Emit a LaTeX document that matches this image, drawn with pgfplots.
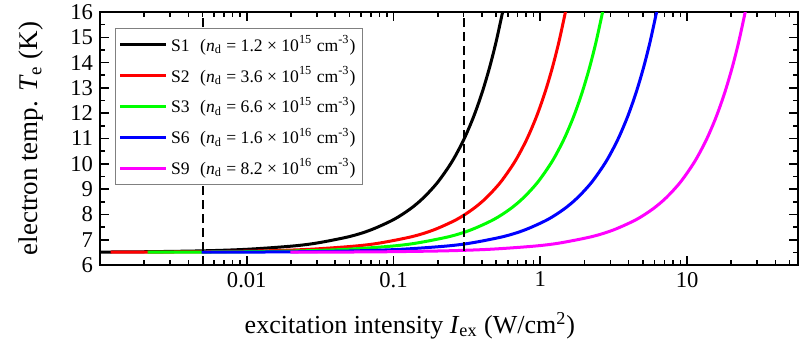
\documentclass[border=0pt]{standalone}
\usepackage{fontspec}
\setmainfont{Liberation Serif}
\usepackage{pgfplots}
\pgfplotsset{compat=1.18}
\definecolor{cgreen}{RGB}{0,255,0}
\definecolor{cblue}{RGB}{0,0,255}
\definecolor{cred}{RGB}{255,0,0}
\definecolor{cmag}{RGB}{255,0,255}
\begin{document}
\begin{tikzpicture}
\begin{axis}[
  name=main,
  xmode=log,
  scale only axis,
  width=349pt, height=126.5pt,
  xmin=0.001, xmax=57,
  ymin=6, ymax=16,
  xtick={0.01,0.1,1,10},
  xticklabels={0.01,0.1,1,10},
  minor xtick={0.002,0.003,0.004,0.005,0.006,0.007,0.008,0.009,
               0.02,0.03,0.04,0.05,0.06,0.07,0.08,0.09,
               0.2,0.3,0.4,0.5,0.6,0.7,0.8,0.9,
               2,3,4,5,6,7,8,9,20,30,40,50},
  ytick={6,7,8,9,10,11,12,13,14,15,16},
  minor y tick num=1,
  tick align=inside,
  major tick length=4.5pt,
  minor tick length=2.5pt,
  every tick/.style={black, line width=0.8pt},
  axis line style={line width=1pt},
  /pgf/number format/assume math mode=true,
  tick label style={font=\fontsize{11.3}{13}\selectfont},
  xlabel={excitation intensity \textit{I}\textsubscript{ex} (W/cm\textsuperscript{2})},
  ylabel={electron temp. \textit{T}\textsubscript{e} (K)},
  x label style={at={(axis description cs:0.444,-0.269)}, anchor=base, font=\fontsize{13}{15}\selectfont},
  y label style={at={(axis description cs:-0.09,0.5)}, anchor=base, font=\fontsize{13.5}{16}\selectfont},
  legend cell align=left,
  legend style={at={(0.0215,0.937)}, anchor=north west, draw=gray, line width=0.5pt,
    font=\fontsize{8.8}{10.5}\selectfont, inner sep=1.5pt, row sep=2pt},
  legend image code/.code={\draw[#1] (0cm,0cm) -- (0.8cm,0cm);},
  every axis plot/.append style={smooth, tension=0.5},
]
\addplot[black, line width=1.5pt] coordinates {
(0.00044,6.505) (0.001,6.512) (0.002,6.524) (0.005,6.560) (0.01,6.621) (0.02,6.744) (0.03,6.868) (0.05,7.123) (0.07,7.386) (0.1,7.793) (0.13,8.217) (0.16,8.658) (0.2,9.272) (0.25,10.081) (0.3,10.937) (0.35,11.839) (0.4,12.788) (0.45,13.783) (0.5,14.825) (0.56,16.136)};
\addlegendentry{S1\hspace{0.6em}(\textit{n}\textsubscript{d} = 1.2 × 10\textsuperscript{15} cm\textsuperscript{-3})}
\addplot[cred, line width=1.5pt] coordinates {
(0.00118,6.505) (0.00268,6.512) (0.00536,6.524) (0.0134,6.560) (0.0268,6.621) (0.0536,6.744) (0.0804,6.868) (0.134,7.123) (0.1876,7.386) (0.268,7.793) (0.3484,8.217) (0.4288,8.658) (0.536,9.272) (0.67,10.081) (0.804,10.937) (0.938,11.839) (1.072,12.788) (1.206,13.783) (1.34,14.825) (1.5008,16.136)};
\addlegendentry{S2\hspace{0.6em}(\textit{n}\textsubscript{d} = 3.6 × 10\textsuperscript{15} cm\textsuperscript{-3})}
\addplot[cgreen, line width=1.5pt] coordinates {
(0.00211,6.505) (0.0048,6.512) (0.0096,6.524) (0.024,6.560) (0.048,6.621) (0.096,6.744) (0.144,6.868) (0.24,7.123) (0.336,7.386) (0.48,7.793) (0.624,8.217) (0.768,8.658) (0.96,9.272) (1.2,10.081) (1.44,10.937) (1.68,11.839) (1.92,12.788) (2.16,13.783) (2.4,14.825) (2.688,16.136)};
\addlegendentry{S3\hspace{0.6em}(\textit{n}\textsubscript{d} = 6.6 × 10\textsuperscript{15} cm\textsuperscript{-3})}
\addplot[cblue, line width=1.5pt] coordinates {
(0.00493,6.505) (0.0112,6.512) (0.0224,6.524) (0.056,6.560) (0.112,6.621) (0.224,6.744) (0.336,6.868) (0.56,7.123) (0.784,7.386) (1.12,7.793) (1.456,8.217) (1.792,8.658) (2.24,9.272) (2.8,10.081) (3.36,10.937) (3.92,11.839) (4.48,12.788) (5.04,13.783) (5.6,14.825) (6.272,16.136)};
\addlegendentry{S6\hspace{0.6em}(\textit{n}\textsubscript{d} = 1.6 × 10\textsuperscript{16} cm\textsuperscript{-3})}
\addplot[cmag, line width=1.5pt] coordinates {
(0.0198,6.505) (0.045,6.512) (0.09,6.524) (0.225,6.560) (0.45,6.621) (0.9,6.744) (1.35,6.868) (2.25,7.123) (3.15,7.386) (4.5,7.793) (5.85,8.217) (7.2,8.658) (9.0,9.272) (11.25,10.081) (13.5,10.937) (15.75,11.839) (18.0,12.788) (20.25,13.783) (22.5,14.825) (25.2,16.136)};
\addlegendentry{S9\hspace{0.6em}(\textit{n}\textsubscript{d} = 8.2 × 10\textsuperscript{16} cm\textsuperscript{-3})}
\addplot[black, line width=1pt, dash pattern=on 4.5pt off 2.5pt, sharp plot, forget plot] coordinates {(0.005,6) (0.005,16)};
\addplot[black, line width=1pt, dash pattern=on 4.5pt off 2.5pt, sharp plot, forget plot] coordinates {(0.3,6) (0.3,16)};
\end{axis}
\pgfresetboundingbox
\path[use as bounding box] ([shift={(-50pt,-40pt)}]main.south west) rectangle ([shift={(2.5pt,6pt)}]main.north east);
\end{tikzpicture}
\end{document}
